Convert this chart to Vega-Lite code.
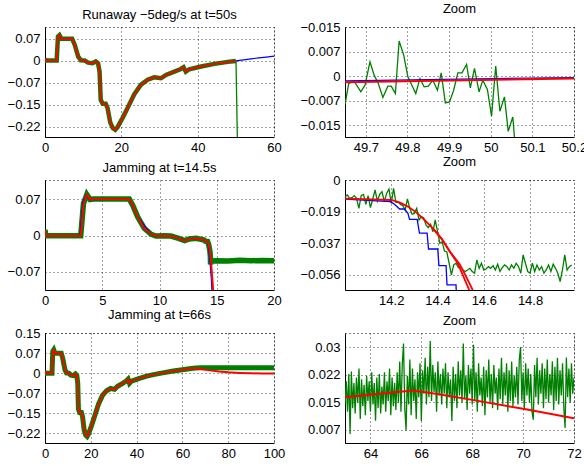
{
"$schema":"https://vega.github.io/schema/vega-lite/v6.json",
"autosize":{"type":"pad"},
"padding":{"left":6,"top":2,"right":0,"bottom":0},
"background":"white",
"columns":2,
"spacing":{"row":43,"column":71},
"bounds":"flush",
"config":{
 "view":{"stroke":"#000","strokeDash":[1,3],"strokeWidth":1},
 "axis":{"labelFont":"Liberation Sans","labelFontSize":13,"labelColor":"#000","domainColor":"#000","domainWidth":1,"ticks":false,"tickSize":0,"grid":true,"gridColor":"#000","gridDash":[1,3],"gridOpacity":0.75,"labelFlush":false,"labelOverlap":false},
 "axisX":{"labelPadding":4},
 "axisY":{"labelPadding":5},
 "title":{"font":"Liberation Sans","fontSize":13,"fontWeight":"normal","color":"#000","frame":"group","anchor":"middle","baseline":"alphabetic","offset":5}
},
"concat":[
{
 "title":"Runaway −5deg/s at t=50s","width":229,"height":110,
 "data":{"values":[
{"s":"rg","x":0,"y":0.008},{"s":"rg","x":0.15,"y":0},{"s":"rg","x":3.06,"y":0},{"s":"rg","x":3.4,"y":0.08},{"s":"rg","x":3.8,"y":0.085},{"s":"rg","x":4.3,"y":0.073},{"s":"rg","x":7.1,"y":0.073},{"s":"rg","x":7.8,"y":0.052},{"s":"rg","x":8.7,"y":0.013},{"s":"rg","x":9.4,"y":0.001},{"s":"rg","x":10.4,"y":0},{"s":"rg","x":11.3,"y":-0.007},{"s":"rg","x":12.4,"y":-0.009},{"s":"rg","x":13.3,"y":-0.003},{"s":"rg","x":13.9,"y":-0.009},{"s":"rg","x":14.3,"y":-0.037},{"s":"rg","x":14.6,"y":-0.131},{"s":"rg","x":15.1,"y":-0.144},{"s":"rg","x":15.9,"y":-0.144},{"s":"rg","x":16.4,"y":-0.159},{"s":"rg","x":17.1,"y":-0.207},{"s":"rg","x":17.8,"y":-0.226},{"s":"rg","x":18.4,"y":-0.231},{"s":"rg","x":19.0,"y":-0.222},{"s":"rg","x":20.3,"y":-0.192},{"s":"rg","x":21.6,"y":-0.159},{"s":"rg","x":23.4,"y":-0.112},{"s":"rg","x":25.1,"y":-0.081},{"s":"rg","x":26.9,"y":-0.064},{"s":"rg","x":28.6,"y":-0.056},{"s":"rg","x":30.4,"y":-0.059},{"s":"rg","x":31.7,"y":-0.048},{"s":"rg","x":33.9,"y":-0.037},{"s":"rg","x":35.6,"y":-0.028},{"s":"rg","x":36.3,"y":-0.022},{"s":"rg","x":36.9,"y":-0.037},{"s":"rg","x":37.8,"y":-0.029},{"s":"rg","x":40.9,"y":-0.020},{"s":"rg","x":44.4,"y":-0.011},{"s":"rg","x":47.9,"y":-0.0044},{"s":"rg","x":50,"y":-0.0012},
{"s":"gd","x":50,"y":-0.0012},{"s":"gd","x":50.05,"y":-0.002},{"s":"gd","x":50.45,"y":-0.3},
{"s":"b","x":50,"y":-0.0012},{"s":"b","x":52,"y":0.0025},{"s":"b","x":54,"y":0.0058},{"s":"b","x":56,"y":0.0088},{"s":"b","x":58,"y":0.0118},{"s":"b","x":60,"y":0.0146}
 ]},
 "encoding":{
  "x":{"field":"x","type":"quantitative","title":null,"scale":{"domain":[0,60],"nice":false,"zero":false},"axis":{"values":[0,20,40,60],"format":".1~f"}},
  "y":{"field":"y","type":"quantitative","title":null,"scale":{"domain":[-0.255,0.112],"nice":false,"zero":false},"axis":{"values":[-0.22,-0.14667,-0.07333,0,0.07333],"format":".2~f"}}
 },
 "layer":[
  {"transform":[{"filter":"datum.s=='g'||datum.s=='rg'"}],"mark":{"type":"line","color":"#008000","strokeWidth":4.5,"clip":true}},
  {"transform":[{"filter":"datum.s=='gt'||datum.s=='gd'"}],"mark":{"type":"line","color":"#008000","strokeWidth":1.3,"clip":true}},
  {"transform":[{"filter":"datum.s=='b'"}],"mark":{"type":"line","color":"#0000ff","strokeWidth":1.2,"clip":true}},
  {"transform":[{"filter":"datum.s=='r'||datum.s=='rg'"}],"mark":{"type":"line","color":"#ff0000","strokeWidth":2,"clip":true}}
 ]
},
{
 "title":"Zoom","width":229,"height":110,
 "data":{"values":[
{"s":"gt","x":49.650,"y":-0.0085},{"s":"gt","x":49.659,"y":-0.0022},{"s":"gt","x":49.672,"y":-0.0015},{"s":"gt","x":49.688,"y":-0.0047},{"s":"gt","x":49.698,"y":-0.0027},{"s":"gt","x":49.710,"y":0.0043},{"s":"gt","x":49.720,"y":0.0003},{"s":"gt","x":49.730,"y":-0.0022},{"s":"gt","x":49.741,"y":-0.0064},{"s":"gt","x":49.753,"y":-0.0030},{"s":"gt","x":49.761,"y":-0.0030},{"s":"gt","x":49.771,"y":-0.0052},{"s":"gt","x":49.780,"y":0.0105},{"s":"gt","x":49.791,"y":0.0063},{"s":"gt","x":49.801,"y":-0.0002},{"s":"gt","x":49.820,"y":-0.0052},{"s":"gt","x":49.830,"y":-0.0007},{"s":"gt","x":49.840,"y":-0.0032},{"s":"gt","x":49.850,"y":-0.0030},{"s":"gt","x":49.861,"y":-0.0012},{"s":"gt","x":49.872,"y":-0.0042},{"s":"gt","x":49.881,"y":0.0010},{"s":"gt","x":49.891,"y":-0.0080},{"s":"gt","x":49.901,"y":-0.0077},{"s":"gt","x":49.911,"y":-0.0042},{"s":"gt","x":49.921,"y":0.0010},{"s":"gt","x":49.931,"y":0.0010},{"s":"gt","x":49.942,"y":0.0035},{"s":"gt","x":49.951,"y":-0.0035},{"s":"gt","x":49.961,"y":0.0023},{"s":"gt","x":49.972,"y":-0.0047},{"s":"gt","x":49.981,"y":-0.0012},{"s":"gt","x":49.992,"y":-0.0040},{"s":"gt","x":50.002,"y":-0.0120},{"s":"gt","x":50.012,"y":0.0030},{"s":"gt","x":50.022,"y":-0.0105},{"s":"gt","x":50.033,"y":-0.0062},{"s":"gt","x":50.042,"y":-0.0165},{"s":"gt","x":50.053,"y":-0.0122},{"s":"gt","x":50.062,"y":-0.0260},
{"s":"b","x":49.65,"y":-0.0014},{"s":"b","x":50.2,"y":-0.0004},
{"s":"r","x":49.65,"y":-0.0018},{"s":"r","x":50.2,"y":-0.0007}
 ]},
 "encoding":{
  "x":{"field":"x","type":"quantitative","title":null,"scale":{"domain":[49.65,50.2],"nice":false,"zero":false},"axis":{"values":[49.7,49.8,49.9,50,50.1,50.2],"format":".1~f"}},
  "y":{"field":"y","type":"quantitative","title":null,"scale":{"domain":[-0.0182,0.0147],"nice":false,"zero":false},"axis":{"values":[-0.01467,-0.00733,0,0.00733,0.01467],"labelExpr":"datum.value > 0.01 ? '−0.015' : format(datum.value, '.3~f')"}}
 },
 "layer":[
  {"transform":[{"filter":"datum.s=='gt'"}],"mark":{"type":"line","color":"#008000","strokeWidth":1.3,"clip":true}},
  {"transform":[{"filter":"datum.s=='b'"}],"mark":{"type":"line","color":"#0000ff","strokeWidth":1.2,"clip":true}},
  {"transform":[{"filter":"datum.s=='r'"}],"mark":{"type":"line","color":"#ff0000","strokeWidth":2,"clip":true}}
 ]
},
{
 "title":"Jamming at t=14.5s","width":229,"height":110,
 "data":{"values":[
{"s":"rg","x":0,"y":0.012},{"s":"rg","x":0.06,"y":0},{"s":"rg","x":3.12,"y":0},{"s":"rg","x":3.36,"y":0.065},{"s":"rg","x":3.65,"y":0.083},{"s":"rg","x":3.94,"y":0.073},{"s":"rg","x":4.23,"y":0.074},{"s":"rg","x":7.36,"y":0.074},{"s":"rg","x":7.65,"y":0.062},{"s":"rg","x":8.09,"y":0.038},{"s":"rg","x":8.67,"y":0.015},{"s":"rg","x":9.26,"y":0.003},{"s":"rg","x":9.69,"y":-0.0007},{"s":"rg","x":10.42,"y":0},{"s":"rg","x":11.0,"y":-0.0007},{"s":"rg","x":11.6,"y":-0.005},{"s":"rg","x":12.2,"y":-0.010},{"s":"rg","x":12.6,"y":-0.0067},{"s":"rg","x":13.2,"y":-0.0054},{"s":"rg","x":13.9,"y":-0.0087},{"s":"rg","x":14.0,"y":-0.011},{"s":"rg","x":14.2,"y":-0.0118},{"s":"rg","x":14.3,"y":-0.0185},{"s":"rg","x":14.4,"y":-0.031},
{"s":"r","x":14.487,"y":-0.049},{"s":"r","x":14.537,"y":-0.0649},{"s":"r","x":14.6,"y":-0.084},{"s":"r","x":14.7,"y":-0.115},
{"s":"g","x":14.44,"y":-0.041},{"s":"g","x":14.46,"y":-0.058},{"s":"g","x":14.5,"y":-0.051},{"s":"g","x":15,"y":-0.0505},{"s":"g","x":16,"y":-0.051},{"s":"g","x":17,"y":-0.0495},{"s":"g","x":18,"y":-0.0505},{"s":"g","x":19,"y":-0.050},{"s":"g","x":20,"y":-0.0505},
{"s":"b","x":0,"y":0},{"s":"b","x":3.05,"y":0},{"s":"b","x":3.3,"y":0.068},{"s":"b","x":3.6,"y":0.082},{"s":"b","x":3.9,"y":0.073},{"s":"b","x":7.36,"y":0.074},{"s":"b","x":8.09,"y":0.038},{"s":"b","x":9.26,"y":0.003},{"s":"b","x":9.69,"y":-0.0007},{"s":"b","x":10.42,"y":0},{"s":"b","x":11.0,"y":-0.0007},{"s":"b","x":11.6,"y":-0.005},{"s":"b","x":12.2,"y":-0.010},{"s":"b","x":12.6,"y":-0.0067},{"s":"b","x":13.2,"y":-0.0054},{"s":"b","x":13.9,"y":-0.0087},{"s":"b","x":14.0,"y":-0.011},{"s":"b","x":14.2,"y":-0.0128},{"s":"b","x":14.279,"y":-0.0232},{"s":"b","x":14.361,"y":-0.0407},{"s":"b","x":14.441,"y":-0.0619},{"s":"b","x":14.52,"y":-0.085},{"s":"b","x":14.6,"y":-0.12}
 ]},
 "encoding":{
  "x":{"field":"x","type":"quantitative","title":null,"scale":{"domain":[0,20],"nice":false,"zero":false},"axis":{"values":[0,5,10,15,20],"format":".1~f"}},
  "y":{"field":"y","type":"quantitative","title":null,"scale":{"domain":[-0.1097,0.1125],"nice":false,"zero":false},"axis":{"values":[-0.07333,0,0.07333],"format":".2~f"}}
 },
 "layer":[
  {"transform":[{"filter":"datum.s=='g'||datum.s=='rg'"}],"mark":{"type":"line","color":"#008000","strokeWidth":5.5,"clip":true}},
  {"transform":[{"filter":"datum.s=='b'"}],"mark":{"type":"line","color":"#0000ff","strokeWidth":1.2,"clip":true}},
  {"transform":[{"filter":"datum.s=='r'||datum.s=='rg'"}],"mark":{"type":"line","color":"#ff0000","strokeWidth":2,"clip":true}}
 ]
},
{
 "title":"Zoom","width":229,"height":110,
 "data":{"values":[
{"s":"gt","x":14.00,"y":-0.0098},{"s":"gt","x":14.01,"y":-0.0088},{"s":"gt","x":14.02,"y":-0.0108},{"s":"gt","x":14.03,"y":-0.0104},{"s":"gt","x":14.04,"y":-0.0092},{"s":"gt","x":14.05,"y":-0.0108},{"s":"gt","x":14.06,"y":-0.0167},{"s":"gt","x":14.07,"y":-0.0092},{"s":"gt","x":14.08,"y":-0.0085},{"s":"gt","x":14.09,"y":-0.0144},
{"s":"gt","x":14.10,"y":-0.0092},{"s":"gt","x":14.11,"y":-0.0163},{"s":"gt","x":14.12,"y":-0.0112},{"s":"gt","x":14.13,"y":-0.0059},{"s":"gt","x":14.14,"y":-0.0124},{"s":"gt","x":14.15,"y":-0.0085},{"s":"gt","x":14.16,"y":-0.0069},{"s":"gt","x":14.17,"y":-0.0128},{"s":"gt","x":14.18,"y":-0.0079},{"s":"gt","x":14.19,"y":-0.0053},
{"s":"gt","x":14.20,"y":-0.0138},{"s":"gt","x":14.21,"y":-0.0049},{"s":"gt","x":14.22,"y":-0.0132},{"s":"gt","x":14.23,"y":-0.0132},{"s":"gt","x":14.24,"y":-0.0144},{"s":"gt","x":14.25,"y":-0.0151},{"s":"gt","x":14.26,"y":-0.0177},{"s":"gt","x":14.27,"y":-0.0112},{"s":"gt","x":14.28,"y":-0.0167},{"s":"gt","x":14.29,"y":-0.0202},
{"s":"gt","x":14.30,"y":-0.0197},{"s":"gt","x":14.31,"y":-0.0167},{"s":"gt","x":14.32,"y":-0.0236},{"s":"gt","x":14.33,"y":-0.0216},{"s":"gt","x":14.34,"y":-0.0222},{"s":"gt","x":14.35,"y":-0.0265},{"s":"gt","x":14.36,"y":-0.0281},{"s":"gt","x":14.37,"y":-0.0261},{"s":"gt","x":14.38,"y":-0.0305},{"s":"gt","x":14.39,"y":-0.0236},
{"s":"gt","x":14.40,"y":-0.0305},{"s":"gt","x":14.41,"y":-0.0373},{"s":"gt","x":14.42,"y":-0.0364},{"s":"gt","x":14.43,"y":-0.0419},{"s":"gt","x":14.44,"y":-0.0423},{"s":"gt","x":14.45,"y":-0.0491},{"s":"gt","x":14.46,"y":-0.0560},{"s":"gt","x":14.47,"y":-0.0501},{"s":"gt","x":14.48,"y":-0.0491},{"s":"gt","x":14.49,"y":-0.0517},
{"s":"gt","x":14.50,"y":-0.0511},{"s":"gt","x":14.51,"y":-0.0531},{"s":"gt","x":14.52,"y":-0.0540},{"s":"gt","x":14.53,"y":-0.0531},{"s":"gt","x":14.54,"y":-0.0521},{"s":"gt","x":14.55,"y":-0.0540},{"s":"gt","x":14.56,"y":-0.0550},{"s":"gt","x":14.57,"y":-0.0472},{"s":"gt","x":14.58,"y":-0.0521},{"s":"gt","x":14.59,"y":-0.0491},
{"s":"gt","x":14.60,"y":-0.0531},{"s":"gt","x":14.61,"y":-0.0525},{"s":"gt","x":14.62,"y":-0.0511},{"s":"gt","x":14.63,"y":-0.0521},{"s":"gt","x":14.64,"y":-0.0505},{"s":"gt","x":14.65,"y":-0.0531},{"s":"gt","x":14.66,"y":-0.0497},{"s":"gt","x":14.67,"y":-0.0540},{"s":"gt","x":14.68,"y":-0.0517},{"s":"gt","x":14.69,"y":-0.0501},
{"s":"gt","x":14.70,"y":-0.0511},{"s":"gt","x":14.71,"y":-0.0531},{"s":"gt","x":14.72,"y":-0.0501},{"s":"gt","x":14.73,"y":-0.0521},{"s":"gt","x":14.74,"y":-0.0491},{"s":"gt","x":14.75,"y":-0.0511},{"s":"gt","x":14.76,"y":-0.0550},{"s":"gt","x":14.77,"y":-0.0442},{"s":"gt","x":14.78,"y":-0.0491},{"s":"gt","x":14.79,"y":-0.0540},
{"s":"gt","x":14.80,"y":-0.0550},{"s":"gt","x":14.81,"y":-0.0491},{"s":"gt","x":14.82,"y":-0.0540},{"s":"gt","x":14.83,"y":-0.0501},{"s":"gt","x":14.84,"y":-0.0531},{"s":"gt","x":14.85,"y":-0.0511},{"s":"gt","x":14.86,"y":-0.0550},{"s":"gt","x":14.87,"y":-0.0531},{"s":"gt","x":14.88,"y":-0.0501},{"s":"gt","x":14.89,"y":-0.0540},
{"s":"gt","x":14.90,"y":-0.0497},{"s":"gt","x":14.91,"y":-0.0521},{"s":"gt","x":14.92,"y":-0.0550},{"s":"gt","x":14.93,"y":-0.0599},{"s":"gt","x":14.94,"y":-0.0531},{"s":"gt","x":14.95,"y":-0.0442},{"s":"gt","x":14.96,"y":-0.0531},{"s":"gt","x":14.97,"y":-0.0511},{"s":"gt","x":14.98,"y":-0.0501},
{"s":"b","x":14.0,"y":-0.0112},{"s":"b","x":14.197,"y":-0.0128},{"s":"b","x":14.214,"y":-0.0143},{"s":"b","x":14.236,"y":-0.0171},{"s":"b","x":14.257,"y":-0.0171},{"s":"b","x":14.272,"y":-0.0197},{"s":"b","x":14.279,"y":-0.0232},{"s":"b","x":14.312,"y":-0.0232},{"s":"b","x":14.322,"y":-0.0314},{"s":"b","x":14.355,"y":-0.0314},{"s":"b","x":14.361,"y":-0.0407},{"s":"b","x":14.401,"y":-0.0407},{"s":"b","x":14.406,"y":-0.0505},{"s":"b","x":14.437,"y":-0.0505},{"s":"b","x":14.441,"y":-0.0619},{"s":"b","x":14.48,"y":-0.0619},{"s":"b","x":14.482,"y":-0.07},
{"s":"r","x":14.0,"y":-0.0110},{"s":"r","x":14.2,"y":-0.0118},{"s":"r","x":14.236,"y":-0.0132},{"s":"r","x":14.272,"y":-0.0157},{"s":"r","x":14.308,"y":-0.0191},{"s":"r","x":14.344,"y":-0.0236},{"s":"r","x":14.38,"y":-0.0285},{"s":"r","x":14.416,"y":-0.0344},{"s":"r","x":14.451,"y":-0.0419},{"s":"r","x":14.487,"y":-0.0491},{"s":"r","x":14.509,"y":-0.056},{"s":"r","x":14.537,"y":-0.0649},
{"s":"r2","x":14.38,"y":-0.0285},{"s":"r2","x":14.42,"y":-0.0350},{"s":"r2","x":14.455,"y":-0.0425},{"s":"r2","x":14.495,"y":-0.0495},{"s":"r2","x":14.52,"y":-0.056},{"s":"r2","x":14.552,"y":-0.0649}
 ]},
 "encoding":{
  "x":{"field":"x","type":"quantitative","title":null,"scale":{"domain":[14.0,14.99],"nice":false,"zero":false},"axis":{"values":[14.2,14.4,14.6,14.8],"format":".1~f"}},
  "y":{"field":"y","type":"quantitative","title":null,"scale":{"domain":[-0.0649,0],"nice":false,"zero":false},"axis":{"values":[-0.056,-0.03733,-0.01867,0],"format":".3~f"}}
 },
 "layer":[
  {"transform":[{"filter":"datum.s=='gt'"}],"mark":{"type":"line","color":"#008000","strokeWidth":1.3,"clip":true}},
  {"transform":[{"filter":"datum.s=='b'"}],"mark":{"type":"line","color":"#0000ff","strokeWidth":1.3,"clip":true}},
  {"transform":[{"filter":"datum.s=='r'"}],"mark":{"type":"line","color":"#ff0000","strokeWidth":1.8,"clip":true}},
  {"transform":[{"filter":"datum.s=='r2'"}],"mark":{"type":"line","color":"#ff0000","strokeWidth":1.8,"clip":true}}
 ]
},
{
 "title":"Jamming at t=66s","width":229,"height":110,
 "data":{"values":[
{"s":"rg","x":0,"y":0.008},{"s":"rg","x":0.15,"y":0},{"s":"rg","x":3.06,"y":0},{"s":"rg","x":3.4,"y":0.08},{"s":"rg","x":3.8,"y":0.085},{"s":"rg","x":4.3,"y":0.073},{"s":"rg","x":7.1,"y":0.073},{"s":"rg","x":7.8,"y":0.052},{"s":"rg","x":8.7,"y":0.013},{"s":"rg","x":9.4,"y":0.001},{"s":"rg","x":10.4,"y":0},{"s":"rg","x":11.3,"y":-0.007},{"s":"rg","x":12.4,"y":-0.009},{"s":"rg","x":13.3,"y":-0.003},{"s":"rg","x":13.9,"y":-0.009},{"s":"rg","x":14.3,"y":-0.037},{"s":"rg","x":14.6,"y":-0.131},{"s":"rg","x":15.1,"y":-0.144},{"s":"rg","x":15.9,"y":-0.144},{"s":"rg","x":16.4,"y":-0.159},{"s":"rg","x":17.1,"y":-0.207},{"s":"rg","x":17.8,"y":-0.226},{"s":"rg","x":18.4,"y":-0.231},{"s":"rg","x":19.0,"y":-0.222},{"s":"rg","x":20.3,"y":-0.192},{"s":"rg","x":21.6,"y":-0.159},{"s":"rg","x":23.4,"y":-0.112},{"s":"rg","x":25.1,"y":-0.081},{"s":"rg","x":26.9,"y":-0.064},{"s":"rg","x":28.6,"y":-0.056},{"s":"rg","x":30.4,"y":-0.059},{"s":"rg","x":31.7,"y":-0.048},{"s":"rg","x":33.9,"y":-0.037},{"s":"rg","x":35.6,"y":-0.028},{"s":"rg","x":36.3,"y":-0.022},{"s":"rg","x":36.9,"y":-0.037},{"s":"rg","x":37.8,"y":-0.029},{"s":"rg","x":40.9,"y":-0.020},{"s":"rg","x":44.4,"y":-0.011},{"s":"rg","x":47.9,"y":-0.0044},{"s":"rg","x":52,"y":0.002},{"s":"rg","x":56,"y":0.008},{"s":"rg","x":60,"y":0.0128},{"s":"rg","x":63,"y":0.016},
{"s":"r","x":65.65,"y":0.0179},{"s":"r","x":68,"y":0.0153},{"s":"r","x":72,"y":0.0102},{"s":"r","x":76,"y":0.006},{"s":"r","x":80,"y":0.003},{"s":"r","x":85,"y":0.0008},{"s":"r","x":90,"y":-0.0005},{"s":"r","x":95,"y":-0.0012},{"s":"r","x":100,"y":-0.0015},
{"s":"g","x":65.65,"y":0.0185},{"s":"g","x":68,"y":0.0195},{"s":"g","x":80,"y":0.0195},{"s":"g","x":90,"y":0.0200},{"s":"g","x":100,"y":0.0195}
 ]},
 "encoding":{
  "x":{"field":"x","type":"quantitative","title":null,"scale":{"domain":[0,100],"nice":false,"zero":false},"axis":{"values":[0,20,40,60,80,100],"format":".1~f"}},
  "y":{"field":"y","type":"quantitative","title":null,"scale":{"domain":[-0.255,0.1467],"nice":false,"zero":false},"axis":{"values":[-0.22,-0.14667,-0.07333,0,0.07333,0.14667],"format":".2~f"}}
 },
 "layer":[
  {"transform":[{"filter":"datum.s=='g'||datum.s=='rg'"}],"mark":{"type":"line","color":"#008000","strokeWidth":5,"clip":true}},
  {"transform":[{"filter":"datum.s=='r'||datum.s=='rg'"}],"mark":{"type":"line","color":"#ff0000","strokeWidth":2,"clip":true}}
 ]
},
{
 "title":"Zoom","width":229,"height":110,
 "data":{"values":[
{"s":"gt","x":63.00,"y":0.0140},{"s":"gt","x":63.05,"y":0.0205},{"s":"gt","x":63.10,"y":0.0120},{"s":"gt","x":63.15,"y":0.0225},{"s":"gt","x":63.20,"y":0.0058},{"s":"gt","x":63.25,"y":0.0232},{"s":"gt","x":63.30,"y":0.0130},{"s":"gt","x":63.35,"y":0.0200},{"s":"gt","x":63.40,"y":0.0115},{"s":"gt","x":63.45,"y":0.0215},
{"s":"gt","x":63.50,"y":0.0145},{"s":"gt","x":63.55,"y":0.0240},{"s":"gt","x":63.60,"y":0.0100},{"s":"gt","x":63.65,"y":0.0210},{"s":"gt","x":63.70,"y":0.0135},{"s":"gt","x":63.75,"y":0.0195},{"s":"gt","x":63.80,"y":0.0110},{"s":"gt","x":63.85,"y":0.0220},{"s":"gt","x":63.90,"y":0.0150},{"s":"gt","x":63.95,"y":0.0205},
{"s":"gt","x":64.00,"y":0.0120},{"s":"gt","x":64.05,"y":0.0230},{"s":"gt","x":64.10,"y":0.0140},{"s":"gt","x":64.15,"y":0.0200},{"s":"gt","x":64.20,"y":0.0095},{"s":"gt","x":64.25,"y":0.0215},{"s":"gt","x":64.30,"y":0.0130},{"s":"gt","x":64.35,"y":0.0225},{"s":"gt","x":64.40,"y":0.0115},{"s":"gt","x":64.45,"y":0.0190},
{"s":"gt","x":64.50,"y":0.0140},{"s":"gt","x":64.55,"y":0.0230},{"s":"gt","x":64.60,"y":0.0120},{"s":"gt","x":64.65,"y":0.0205},{"s":"gt","x":64.70,"y":0.0150},{"s":"gt","x":64.75,"y":0.0240},{"s":"gt","x":64.80,"y":0.0110},{"s":"gt","x":64.85,"y":0.0215},{"s":"gt","x":64.90,"y":0.0135},{"s":"gt","x":64.95,"y":0.0200},
{"s":"gt","x":65.00,"y":0.0125},{"s":"gt","x":65.05,"y":0.0230},{"s":"gt","x":65.10,"y":0.0145},{"s":"gt","x":65.15,"y":0.0260},{"s":"gt","x":65.20,"y":0.0120},{"s":"gt","x":65.25,"y":0.0250},{"s":"gt","x":65.30,"y":0.0310},{"s":"gt","x":65.35,"y":0.0130},{"s":"gt","x":65.40,"y":0.0068},{"s":"gt","x":65.45,"y":0.0220},
{"s":"gt","x":65.50,"y":0.0140},{"s":"gt","x":65.55,"y":0.0265},{"s":"gt","x":65.60,"y":0.0110},{"s":"gt","x":65.65,"y":0.0240},{"s":"gt","x":65.70,"y":0.0150},{"s":"gt","x":65.75,"y":0.0210},{"s":"gt","x":65.80,"y":0.0100},{"s":"gt","x":65.85,"y":0.0230},{"s":"gt","x":65.90,"y":0.0160},{"s":"gt","x":65.95,"y":0.0255},
{"s":"gt","x":66.00,"y":0.0094},{"s":"gt","x":66.05,"y":0.0235},{"s":"gt","x":66.10,"y":0.0170},{"s":"gt","x":66.15,"y":0.0270},{"s":"gt","x":66.20,"y":0.0140},{"s":"gt","x":66.25,"y":0.0245},{"s":"gt","x":66.30,"y":0.0160},{"s":"gt","x":66.35,"y":0.0317},{"s":"gt","x":66.40,"y":0.0150},{"s":"gt","x":66.45,"y":0.0250},
{"s":"gt","x":66.50,"y":0.0175},{"s":"gt","x":66.55,"y":0.0230},{"s":"gt","x":66.60,"y":0.0120},{"s":"gt","x":66.65,"y":0.0260},{"s":"gt","x":66.70,"y":0.0165},{"s":"gt","x":66.75,"y":0.0225},{"s":"gt","x":66.80,"y":0.0140},{"s":"gt","x":66.85,"y":0.0240},{"s":"gt","x":66.90,"y":0.0170},{"s":"gt","x":66.95,"y":0.0255},
{"s":"gt","x":67.00,"y":0.0130},{"s":"gt","x":67.05,"y":0.0230},{"s":"gt","x":67.10,"y":0.0160},{"s":"gt","x":67.15,"y":0.0210},{"s":"gt","x":67.20,"y":0.0094},{"s":"gt","x":67.25,"y":0.0245},{"s":"gt","x":67.30,"y":0.0150},{"s":"gt","x":67.35,"y":0.0225},{"s":"gt","x":67.40,"y":0.0130},{"s":"gt","x":67.45,"y":0.0260},
{"s":"gt","x":67.50,"y":0.0165},{"s":"gt","x":67.55,"y":0.0235},{"s":"gt","x":67.60,"y":0.0145},{"s":"gt","x":67.65,"y":0.0310},{"s":"gt","x":67.70,"y":0.0155},{"s":"gt","x":67.75,"y":0.0220},{"s":"gt","x":67.80,"y":0.0125},{"s":"gt","x":67.85,"y":0.0250},{"s":"gt","x":67.90,"y":0.0170},{"s":"gt","x":67.95,"y":0.0240},
{"s":"gt","x":68.00,"y":0.0140},{"s":"gt","x":68.05,"y":0.0306},{"s":"gt","x":68.10,"y":0.0150},{"s":"gt","x":68.15,"y":0.0230},{"s":"gt","x":68.20,"y":0.0120},{"s":"gt","x":68.25,"y":0.0255},{"s":"gt","x":68.30,"y":0.0165},{"s":"gt","x":68.35,"y":0.0215},{"s":"gt","x":68.40,"y":0.0135},{"s":"gt","x":68.45,"y":0.0245},
{"s":"gt","x":68.50,"y":0.0110},{"s":"gt","x":68.55,"y":0.0235},{"s":"gt","x":68.60,"y":0.0160},{"s":"gt","x":68.65,"y":0.0265},{"s":"gt","x":68.70,"y":0.0145},{"s":"gt","x":68.75,"y":0.0225},{"s":"gt","x":68.80,"y":0.0130},{"s":"gt","x":68.85,"y":0.0250},{"s":"gt","x":68.90,"y":0.0170},{"s":"gt","x":68.95,"y":0.0215},
{"s":"gt","x":69.00,"y":0.0125},{"s":"gt","x":69.05,"y":0.0240},{"s":"gt","x":69.10,"y":0.0155},{"s":"gt","x":69.15,"y":0.0270},{"s":"gt","x":69.20,"y":0.0140},{"s":"gt","x":69.25,"y":0.0230},{"s":"gt","x":69.30,"y":0.0165},{"s":"gt","x":69.35,"y":0.0255},{"s":"gt","x":69.40,"y":0.0120},{"s":"gt","x":69.45,"y":0.0235},
{"s":"gt","x":69.50,"y":0.0150},{"s":"gt","x":69.55,"y":0.0260},{"s":"gt","x":69.60,"y":0.0135},{"s":"gt","x":69.65,"y":0.0220},{"s":"gt","x":69.70,"y":0.0160},{"s":"gt","x":69.75,"y":0.0245},{"s":"gt","x":69.80,"y":0.0140},{"s":"gt","x":69.85,"y":0.0265},{"s":"gt","x":69.90,"y":0.0300},{"s":"gt","x":69.95,"y":0.0150},
{"s":"gt","x":70.00,"y":0.0230},{"s":"gt","x":70.05,"y":0.0130},{"s":"gt","x":70.10,"y":0.0255},{"s":"gt","x":70.15,"y":0.0165},{"s":"gt","x":70.20,"y":0.0240},{"s":"gt","x":70.25,"y":0.0145},{"s":"gt","x":70.30,"y":0.0225},{"s":"gt","x":70.35,"y":0.0120},{"s":"gt","x":70.40,"y":0.0098},{"s":"gt","x":70.45,"y":0.0250},
{"s":"gt","x":70.50,"y":0.0160},{"s":"gt","x":70.55,"y":0.0270},{"s":"gt","x":70.60,"y":0.0140},{"s":"gt","x":70.65,"y":0.0235},{"s":"gt","x":70.70,"y":0.0170},{"s":"gt","x":70.75,"y":0.0255},{"s":"gt","x":70.80,"y":0.0130},{"s":"gt","x":70.85,"y":0.0240},{"s":"gt","x":70.90,"y":0.0155},{"s":"gt","x":70.95,"y":0.0265},
{"s":"gt","x":71.00,"y":0.0145},{"s":"gt","x":71.05,"y":0.0225},{"s":"gt","x":71.10,"y":0.0165},{"s":"gt","x":71.15,"y":0.0260},{"s":"gt","x":71.20,"y":0.0125},{"s":"gt","x":71.25,"y":0.0245},{"s":"gt","x":71.30,"y":0.0150},{"s":"gt","x":71.35,"y":0.0270},{"s":"gt","x":71.40,"y":0.0140},{"s":"gt","x":71.45,"y":0.0235},
{"s":"gt","x":71.50,"y":0.0165},{"s":"gt","x":71.55,"y":0.0255},{"s":"gt","x":71.60,"y":0.0130},{"s":"gt","x":71.65,"y":0.0075},{"s":"gt","x":71.70,"y":0.0271},{"s":"gt","x":71.75,"y":0.0160},{"s":"gt","x":71.80,"y":0.0240},{"s":"gt","x":71.85,"y":0.0145},{"s":"gt","x":71.90,"y":0.0255},{"s":"gt","x":71.95,"y":0.0170},
{"s":"gt","x":72.00,"y":0.0215},
{"s":"r","x":63,"y":0.0160},{"s":"r","x":65.65,"y":0.0179},{"s":"r","x":66.5,"y":0.0171},{"s":"r","x":68,"y":0.0153},{"s":"r","x":70,"y":0.0128},{"s":"r","x":72,"y":0.0102}
 ]},
 "encoding":{
  "x":{"field":"x","type":"quantitative","title":null,"scale":{"domain":[63,72],"nice":false,"zero":false},"axis":{"values":[64,66,68,70,72],"format":".1~f"}},
  "y":{"field":"y","type":"quantitative","title":null,"scale":{"domain":[0.0033,0.0339],"nice":false,"zero":false},"axis":{"values":[0.007,0.01467,0.02233,0.03],"format":".3~f"}}
 },
 "layer":[
  {"transform":[{"filter":"datum.s=='gt'"}],"mark":{"type":"line","color":"#008000","strokeWidth":1.3,"clip":true}},
  {"transform":[{"filter":"datum.s=='r'"}],"mark":{"type":"line","color":"#ff0000","strokeWidth":2,"clip":true}}
 ]
}
]
}
